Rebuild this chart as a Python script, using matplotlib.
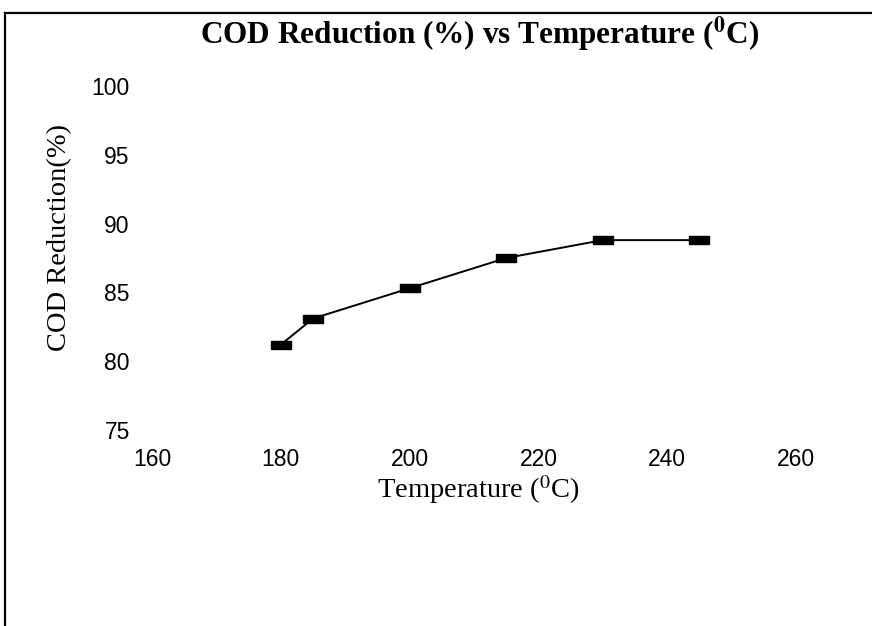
import matplotlib.pyplot as plt
from matplotlib.lines import Line2D

plt.rcParams['mathtext.fontset'] = 'stix'

temperatura = [180, 185, 200, 215, 230, 245]
reduccion = [81.2, 83.1, 85.3, 87.5, 88.8, 88.8]
xticks = [160, 180, 200, 220, 240, 260]
yticks = [75, 80, 85, 90, 95, 100]

W, H = 872, 626
fig = plt.figure(figsize=(W / 100, H / 100), dpi=100)
ax = fig.add_axes([152 / W, 1 - 430 / H, 644 / W, 344 / H])

# marcador rectangular ancho, como en Excel
rect = [(-3, -1.1), (3, -1.1), (3, 1.1), (-3, 1.1), (-3, -1.1)]
ax.plot(temperatura, reduccion, color='black', lw=1.4,
        marker=rect, markersize=15, markerfacecolor='black', markeredgecolor='black')

ax.set_xlim(160, 260)
ax.set_ylim(75, 100)
ax.set_xticks(xticks)
ax.set_yticks(yticks)
for s in ax.spines.values():
    s.set_visible(False)
ax.tick_params(length=0, labelsize=16.5)
ax.tick_params(axis='y', pad=16)
ax.tick_params(axis='x', pad=13)
for lab in ax.get_xticklabels() + ax.get_yticklabels():
    lab.set_fontfamily('Liberation Sans')

fig.text(480 / W, 1 - 34 / H, r"COD Reduction (%) vs Temperature ($^\mathbf{0}$C)",
         ha='center', va='center', fontsize=22.5, fontweight='bold', family='Liberation Serif')
fig.text(478 / W, 1 - 490 / H, r"Temperature ($^0$C)",
         ha='center', va='center', fontsize=20.5, family='Liberation Serif')
fig.text(60 / W, 1 - 238 / H, "COD Reduction(%)", rotation=90,
         ha='center', va='center', fontsize=20.5, family='Liberation Serif')

# marco del gráfico (solo lados superior e izquierdo visibles)
fig.add_artist(Line2D([5 / W, 1], [1 - 12.5 / H, 1 - 12.5 / H], color='black', lw=1.6,
                      transform=fig.transFigure))
fig.add_artist(Line2D([5 / W, 5 / W], [0, 1 - 12.5 / H], color='black', lw=1.6,
                      transform=fig.transFigure))

fig.savefig('out.png', dpi=100)
